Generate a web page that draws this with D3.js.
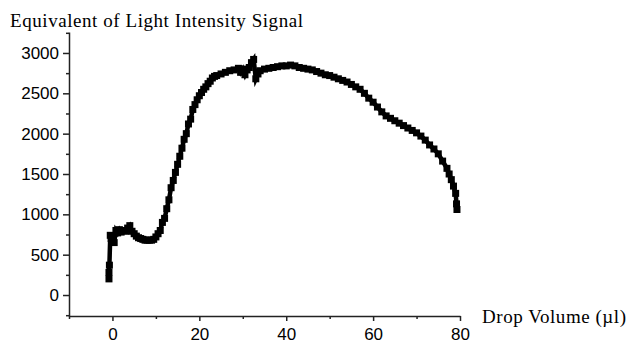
<!DOCTYPE html>
<html>
<head>
<meta charset="utf-8">
<script src="https://cdn.jsdelivr.net/npm/d3@7"></script>
<style>
  body { margin: 0; background: #fff; }
  .tick text { font-family: "Liberation Sans", Arial, sans-serif; font-size: 17px; fill: #000; }
  .tick line, .domain { stroke: #222; stroke-width: 1.5; }
</style>
</head>
<body>
<script>
const volume = [-0.8, -0.8, -0.7, -0.5, -0.3, 0, 0.4, 0.8, 1.2, 1.6, 2.0, 2.5, 3.0, 3.5, 4.0, 4.5,
  5.0, 5.5, 6.0, 6.5, 7.0, 7.5, 8.0, 8.5, 9.0, 9.5, 10.0, 10.5, 11.0, 11.5, 12.0, 12.5, 13.0, 13.5,
  14.0, 14.5, 15.0, 15.5, 16.0, 16.5, 17.0, 17.5, 18.0, 18.5, 19.0, 19.5, 20.0, 20.5, 21.0, 21.5,
  22, 22.5, 23, 23.5, 24, 25, 26, 27, 28, 29, 29.5, 30, 30.5, 31, 31.5, 32, 32.5, 33, 33.5, 34,
  35, 36, 37, 38, 39, 40, 41, 42, 43, 44, 45, 46, 47, 48, 49, 50, 51, 52, 53, 54, 55, 56, 57, 58,
  59, 60, 61, 62, 63, 64, 65, 66, 67, 68, 69, 70, 71, 72, 73, 74, 75, 76, 77, 77.5, 78, 78.5, 79,
  79.2, 79.3]
const signal = [200, 280, 370, 740, 700, 720, 650, 800, 770, 810, 780, 800, 790, 830, 860, 790,
  760, 730, 710, 700, 690, 680, 680, 680, 680, 690, 720, 760, 800, 900, 950, 1070, 1180, 1330,
  1420, 1520, 1620, 1720, 1820, 1930, 2000, 2120, 2180, 2300, 2360, 2420, 2470, 2510, 2550, 2580,
  2620, 2650, 2690, 2710, 2720, 2740, 2760, 2780, 2790, 2810, 2760, 2800, 2730, 2790, 2820, 2880, 2920, 2680, 2740, 2780,
  2800, 2810, 2820, 2830, 2840, 2840, 2850, 2840, 2820, 2810, 2800, 2790, 2770, 2750, 2730, 2720, 2700, 2680, 2660, 2640, 2610, 2580, 2550, 2500,
  2440, 2390, 2330, 2270, 2220, 2190, 2160, 2130, 2100, 2070, 2040, 2010, 1970, 1920, 1860, 1810, 1750, 1660, 1570, 1500, 1430, 1350, 1260,
  1130, 1060]

const xMajor = [0, 20, 40, 60, 80]
const xMinor = [-10, 10, 30, 50, 70]
const yMajor = [0, 500, 1000, 1500, 2000, 2500, 3000]
const yMinor = [-250, 250, 750, 1250, 1750, 2250, 2750, 3250]

const pts = volume.map((v, i) => ({v: v, s: signal[i]}))

var svg = d3.select("body").append("svg")
  .attr("width", 629)
  .attr("height", 343)

var x = d3.scaleLinear().domain([-10, 80]).range([69, 460])
var y = d3.scaleLinear().domain([-260, 3260]).range([316, 32])

// axes
svg.append("g")
  .attr("transform", "translate(0,316)")
  .call(d3.axisBottom(x).tickValues(xMajor).tickSize(5).tickSizeOuter(0).tickPadding(7).tickFormat(d3.format("d")))
svg.append("g")
  .attr("transform", "translate(0,316)")
  .call(d3.axisBottom(x).tickValues(xMinor).tickSize(3).tickFormat(""))
  .select(".domain").remove()

svg.append("g")
  .attr("transform", "translate(69,0)")
  .call(d3.axisLeft(y).tickValues(yMajor).tickSize(6).tickSizeOuter(0).tickPadding(4).tickFormat(d3.format("d")))
svg.append("g")
  .attr("transform", "translate(69,0)")
  .call(d3.axisLeft(y).tickValues(yMinor).tickSize(3).tickFormat(""))
  .select(".domain").remove()

// thick line + square markers
var line = d3.line().x(d => x(d.v)).y(d => y(d.s))
svg.append("path")
  .datum(pts)
  .attr("d", line)
  .attr("fill", "none")
  .attr("stroke", "#000")
  .attr("stroke-width", 4.5)

svg.selectAll("rect.pt")
  .data(pts)
  .enter()
  .append("rect")
  .attr("class", "pt")
  .attr("x", d => x(d.v) - 3.5)
  .attr("y", d => y(d.s) - 3.5)
  .attr("width", 7)
  .attr("height", 7)
  .attr("fill", "#000")

// titles
svg.append("text")
  .text("Equivalent of Light Intensity Signal")
  .attr("x", 10)
  .attr("y", 27)
  .attr("textLength", 293)
  .style("font-family", "'Liberation Serif', 'Times New Roman', serif")
  .style("font-size", "19px")

svg.append("text")
  .text("Drop Volume (µl)")
  .attr("x", 482)
  .attr("y", 323)
  .attr("textLength", 144)
  .style("font-family", "'Liberation Serif', 'Times New Roman', serif")
  .style("font-size", "19px")
</script>
</body>
</html>
